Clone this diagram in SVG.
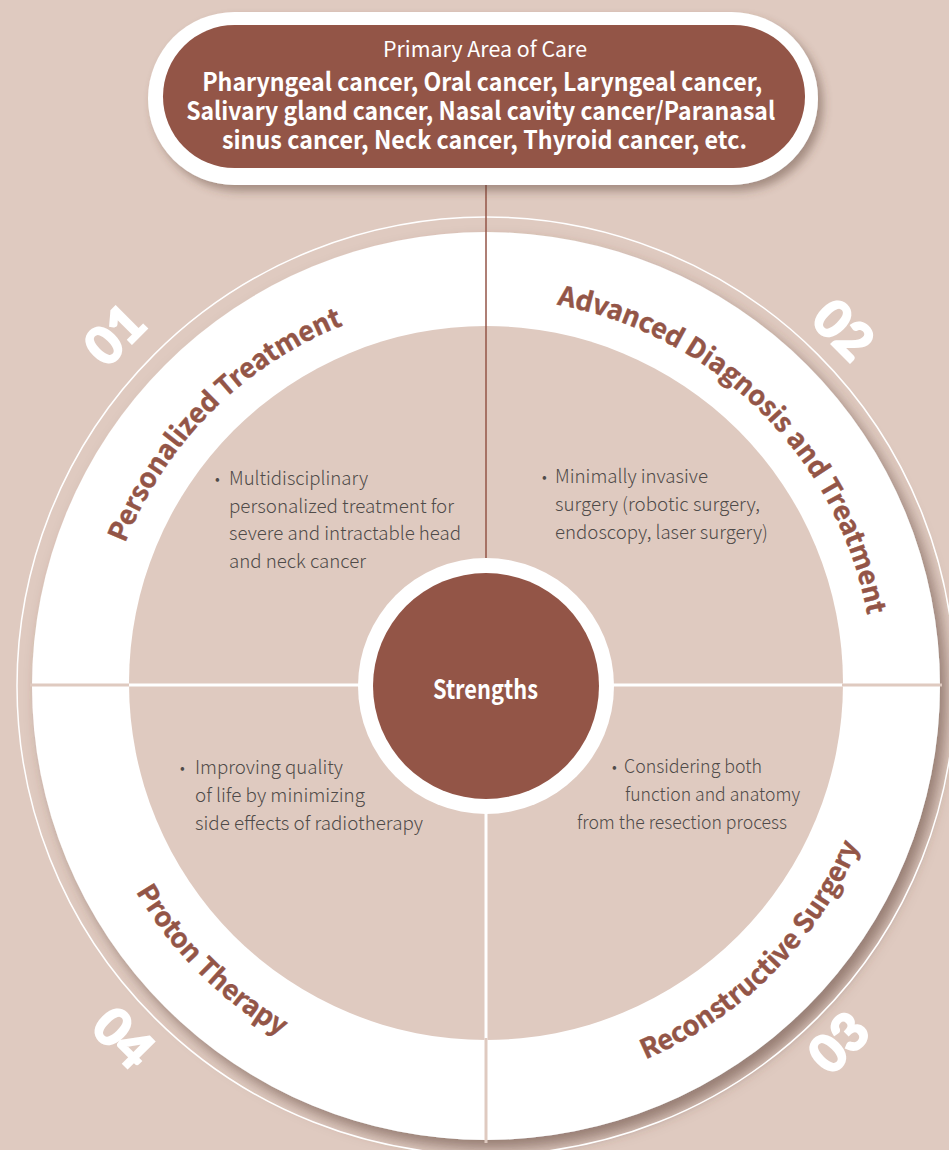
<svg xmlns="http://www.w3.org/2000/svg" width="949" height="1150" viewBox="0 0 949 1150">
<defs>
<style>
.bg{fill:#dfcac0}
.brown{fill:#935547}
.pill-title{font-family:"Noto Sans CJK KR","Liberation Sans",sans-serif;fill:#fff;text-anchor:middle}
.lbl{font-family:"Noto Sans CJK KR","Liberation Sans",sans-serif;font-weight:700;font-size:27px;fill:#935547;stroke:#935547;stroke-width:0.4}
.num{font-family:Lato,"Liberation Sans",sans-serif;font-weight:900;font-size:52px;fill:#fff;stroke:#fff;stroke-width:2;text-anchor:middle}
.body{font-family:"Noto Sans CJK KR","Open Sans",sans-serif;font-weight:300;font-size:19px;fill:#4f4b49}
.bul{font-size:15px}
.div-ring{stroke:#dfcac0;stroke-width:3}
.div-in{stroke:#ffffff;stroke-width:3}
</style>
<filter id="sh" x="-10%" y="-10%" width="125%" height="130%">
<feDropShadow dx="7" dy="9" stdDeviation="7" flood-color="#5b3f35" flood-opacity="0.55"/>
</filter>
<filter id="shp" x="-10%" y="-20%" width="125%" height="150%">
<feDropShadow dx="5" dy="6" stdDeviation="5" flood-color="#5b3f35" flood-opacity="0.45"/>
</filter>
<path id="p1" d="M 98 686 A 388 388 0 0 1 486 298"/>
<path id="p2" d="M 486 298 A 388 388 0 0 1 874 686"/>
<path id="p4" d="M 80 686 A 406 406 0 0 0 486 1092"/>
<path id="p3" d="M 486 1092 A 406 406 0 0 0 892 686"/>
</defs>
<rect class="bg" x="0" y="0" width="949" height="1150"/>

<g id="wheel">
<circle cx="486" cy="686" r="454" fill="#ffffff" filter="url(#sh)"/>
<circle cx="486" cy="686" r="469" fill="none" stroke="#ffffff" stroke-width="1.5"/>
<circle class="bg" cx="486" cy="683" r="357"/>
</g>

<g id="connectors">
<line class="div-ring" x1="30" y1="685" x2="131" y2="685"/>
<line class="div-in" x1="129" y1="685" x2="360" y2="685"/>
<line class="div-in" x1="612" y1="685" x2="844" y2="685"/>
<line class="div-ring" x1="842" y1="685" x2="942" y2="685"/>
<line class="div-in" x1="486" y1="812" x2="486" y2="1040"/>
<line class="div-ring" x1="486" y1="1038" x2="486" y2="1143"/>
<line x1="486" y1="168" x2="486" y2="575" stroke="#935547" stroke-width="1.5"/>
</g>

<g id="node-area">
<rect x="148" y="12" width="670" height="173" rx="86.5" fill="#ffffff" filter="url(#shp)"/>
<rect class="brown" x="163" y="25" width="642" height="143" rx="71.5"/>
<text class="pill-title" x="485" y="57" font-size="21" textLength="204" lengthAdjust="spacingAndGlyphs">Primary Area of Care</text>
<text class="pill-title" font-weight="700" font-size="25">
<tspan x="485" y="91" textLength="560" lengthAdjust="spacingAndGlyphs">Pharyngeal cancer, Oral cancer, Laryngeal cancer,</tspan>
<tspan x="483.5" y="120" textLength="589" lengthAdjust="spacingAndGlyphs">Salivary gland cancer, Nasal cavity cancer/Paranasal</tspan>
<tspan x="484.5" y="149" textLength="525" lengthAdjust="spacingAndGlyphs">sinus cancer, Neck cancer, Thyroid cancer, etc.</tspan>
</text>
</g>

<g id="node-strengths">
<circle cx="486" cy="686" r="128" fill="#ffffff"/>
<circle class="brown" cx="486" cy="686" r="113"/>
<text class="pill-title" x="485.5" y="699" font-weight="700" font-size="27" textLength="105" lengthAdjust="spacingAndGlyphs">Strengths</text>
</g>

<g id="node-01">
<text class="lbl"><textPath href="#p1" startOffset="50%" text-anchor="middle">Personalized Treatment</textPath></text>
<text class="num" transform="translate(115 335) rotate(-45)" y="18">01</text>
<text class="body">
<tspan class="bul" x="215" y="484">•</tspan><tspan x="229" y="485" textLength="139" lengthAdjust="spacingAndGlyphs">Multidisciplinary</tspan>
<tspan x="229" y="513" textLength="225" lengthAdjust="spacingAndGlyphs">personalized treatment for</tspan>
<tspan x="229" y="540" textLength="232" lengthAdjust="spacingAndGlyphs">severe and intractable head</tspan>
<tspan x="229" y="568" textLength="137" lengthAdjust="spacingAndGlyphs">and neck cancer</tspan>
</text>
</g>

<g id="node-02">
<text class="lbl"><textPath href="#p2" startOffset="50%" text-anchor="middle">Advanced Diagnosis and Treatment</textPath></text>
<text class="num" transform="translate(843 330) rotate(45)" y="18">02</text>
<text class="body">
<tspan class="bul" x="542" y="482">•</tspan><tspan x="555" y="483" textLength="153" lengthAdjust="spacingAndGlyphs">Minimally invasive</tspan>
<tspan x="555" y="511" textLength="205" lengthAdjust="spacingAndGlyphs">surgery (robotic surgery,</tspan>
<tspan x="555" y="539" textLength="213" lengthAdjust="spacingAndGlyphs">endoscopy, laser surgery)</tspan>
</text>
</g>

<g id="node-03">
<text class="lbl"><textPath href="#p3" startOffset="50%" text-anchor="middle">Reconstructive Surgery</textPath></text>
<text class="num" transform="translate(839 1043) rotate(-45)" y="18">03</text>
<text class="body">
<tspan class="bul" x="612" y="772">•</tspan><tspan x="624" y="773" textLength="138" lengthAdjust="spacingAndGlyphs">Considering both</tspan>
<tspan x="625" y="801" textLength="175" lengthAdjust="spacingAndGlyphs">function and anatomy</tspan>
<tspan x="577" y="829" textLength="210" lengthAdjust="spacingAndGlyphs">from the resection process</tspan>
</text>
</g>

<g id="node-04">
<text class="lbl"><textPath href="#p4" startOffset="50%" text-anchor="middle">Proton Therapy</textPath></text>
<text class="num" transform="translate(123 1038) rotate(45)" y="18">04</text>
<text class="body">
<tspan class="bul" x="180" y="773">•</tspan><tspan x="195" y="774" textLength="148" lengthAdjust="spacingAndGlyphs">Improving quality</tspan>
<tspan x="195" y="802" textLength="170" lengthAdjust="spacingAndGlyphs">of life by minimizing</tspan>
<tspan x="195" y="830" textLength="228" lengthAdjust="spacingAndGlyphs">side effects of radiotherapy</tspan>
</text>
</g>
</svg>
